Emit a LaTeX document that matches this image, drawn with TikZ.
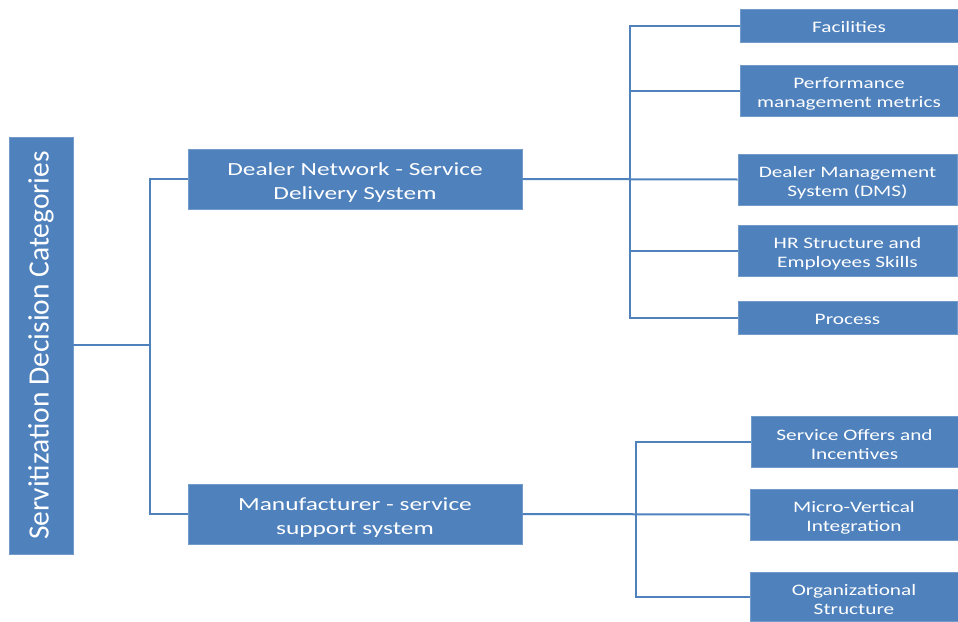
\documentclass[tikz,border=0pt]{standalone}
\usepackage{fontspec}
\setmainfont{Carlito}
\newfontfamily\boxfont[FakeStretch=1.33]{Carlito}
\newfontfamily\midfont[FakeStretch=1.37]{Carlito}
\definecolor{ofblue}{HTML}{4F81BD}
% invisible struts that push the first text line down a little
\newcommand\leafgap{\rule{0pt}{17.5pt}}
\newcommand\onegap{\rule{0pt}{15pt}}
\newcommand\midgap{\rule{0pt}{20pt}}
\begin{document}
\begin{tikzpicture}[x=1pt,y=-1pt,
  blk/.style={fill=ofblue,draw=ofblue!80!white,line width=0.8pt,inner sep=0pt,
    text=white,align=center,font=\boxfont\fontsize{16}{19.5}\selectfont},
  mid/.style={blk,minimum width=334,minimum height=60,
    font=\midfont\fontsize{18.5}{24.5}\selectfont},
  link/.style={draw=ofblue,line width=2pt}]
\useasboundingbox (0,0) rectangle (958,621);
% root
\node[blk,minimum width=64,minimum height=417,font=\fontsize{29.5}{32}\selectfont]
  (root) at (41,345.5) {\rotatebox{90}{Servitization Decision Categories}};
% second level
\node[mid] (dealer) at (355,179) {\midgap Dealer Network - Service\\Delivery System};
\node[mid] (manuf) at (355,514) {\midgap Manufacturer - service\\support system};
% leaves of the dealer network
\node[blk,minimum width=218,minimum height=33] (fac) at (849,25.5) {\onegap Facilities};
\node[blk,minimum width=218,minimum height=51] (perf) at (849,90.5) {\leafgap Performance\\management metrics};
\node[blk,minimum width=219,minimum height=51] (dms) at (847.5,179.5) {\leafgap Dealer Management\\System (DMS)};
\node[blk,minimum width=219,minimum height=51] (hr) at (847.5,250.5) {\leafgap HR Structure and\\Employees Skills};
\node[blk,minimum width=219,minimum height=33] (proc) at (847.5,317.5) {\onegap Process};
% leaves of the manufacturer
\node[blk,minimum width=207,minimum height=51] (svc) at (854.5,441.5) {\leafgap Service Offers and\\Incentives};
\node[blk,minimum width=208,minimum height=51] (micro) at (854,514.5) {\leafgap Micro-Vertical\\Integration};
\node[blk,minimum width=208,minimum height=49] (org) at (854,596.5) {\leafgap Organizational\\Structure};
% junctions
\coordinate (j1) at (150,345);
\coordinate (t1) at (630,179);
\coordinate (b1) at (636,515);
% connectors
\draw[link] (root.east |- j1) -- (j1);
\draw[link] (dealer.west) -| (j1) |- (manuf.west);
\draw[link] (dealer.east) -- (dms.west);
\draw[link] (fac.west) -| (t1) |- (proc.west);
\draw[link] (perf.west) -- (perf.west -| t1);
\draw[link] (hr.west) -- (hr.west -| t1);
\draw[link] (manuf.east) -- (micro.west);
\draw[link] (svc.west) -| (b1) |- (org.west);
\end{tikzpicture}
\end{document}
